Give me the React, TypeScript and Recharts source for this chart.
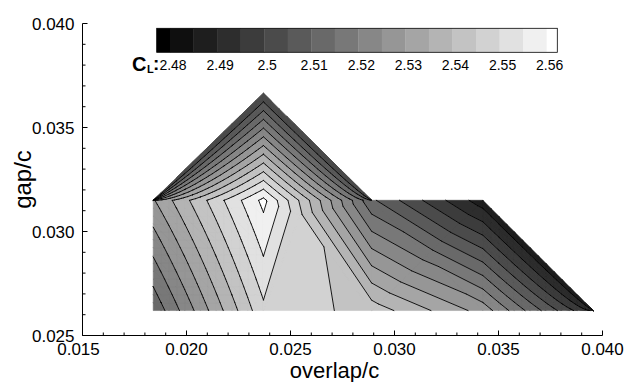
import React from "react";
import { ScatterChart, Scatter, XAxis, YAxis, Legend, Label } from "recharts";

// structured grid of the runs: overlap/c columns, gap/c rows
const overlapNodes = [0.0184, 0.0237, 0.0289, 0.03425, 0.03955];
const gapNodes = [0.0262, 0.0315, 0.03665];

// CL at every grid point, one array per gap row
const clRow0 = [2.511, 2.5488, 2.543, 2.528, 2.494];
const clRow1 = [2.5295, 2.5614, 2.511, 2.487, 2.487];
const clRow2 = [2.5, 2.5, 2.5, 2.5, 2.5];

// gap node that each grid point sits on (missing corners are collapsed onto a neighbour)
const gapRow0 = [0, 0, 0, 0, 0];
const gapRow1 = [1, 1, 1, 1, 0];
const gapRow2 = [1, 2, 1, 2, 2];

// cells that exist, [column, row] of the lower-left corner
const cells = [
  [0, 0], [1, 0], [2, 0], [3, 0],
  [0, 1], [1, 1],
];
// extra point inside a cell (null CL: bilinear cell; null position: cell centre)
const innerCL = [null, 2.546, 2.518, null, null, null];
const innerOverlap = [null, 0.02546, null, null, null, null];
const innerGap = [null, 0.03079, null, null, null, null];

const levels = [
  2.48, 2.485, 2.49, 2.495, 2.5, 2.505, 2.51, 2.515, 2.52,
  2.525, 2.53, 2.535, 2.54, 2.545, 2.55, 2.555, 2.56,
];
const legendTicks = [2.48, 2.49, 2.5, 2.51, 2.52, 2.53, 2.54, 2.55, 2.56];

const xMajor = [0.015, 0.02, 0.025, 0.03, 0.035, 0.04];
const xTicks = [
  0.015, 0.016, 0.017, 0.018, 0.019, 0.02, 0.021, 0.022, 0.023, 0.024, 0.025,
  0.026, 0.027, 0.028, 0.029, 0.03, 0.031, 0.032, 0.033, 0.034, 0.035,
  0.036, 0.037, 0.038, 0.039, 0.04,
];
const yMajor = [0.025, 0.03, 0.035, 0.04];
const yTicks = [
  0.025, 0.026, 0.027, 0.028, 0.029, 0.03, 0.031, 0.032, 0.033, 0.034,
  0.035, 0.036, 0.037, 0.038, 0.039, 0.04,
];

const FONT = "'Liberation Sans', Arial, Helvetica, sans-serif";
const SUB = 14;

const bandColor = (b: number) => {
  const g = Math.round((255 * b) / levels.length);
  return `rgb(${g},${g},${g})`;
};

type Pt = { x: number; y: number; f: number };

const clRows = [clRow0, clRow1, clRow2];
const gapRows = [gapRow0, gapRow1, gapRow2];
const nodeAt = (i: number, j: number): Pt => ({
  x: overlapNodes[i],
  y: gapNodes[gapRows[j][i]],
  f: clRows[j][i],
});

function buildTriangles(): Pt[][] {
  const tris: Pt[][] = [];
  cells.forEach(([i, j], c) => {
    const p00 = nodeAt(i, j);
    const p10 = nodeAt(i + 1, j);
    const p11 = nodeAt(i + 1, j + 1);
    const p01 = nodeAt(i, j + 1);
    const mid = innerCL[c];
    if (mid != null) {
      const ox = innerOverlap[c];
      const gy = innerGap[c];
      const m: Pt = {
        x: ox != null ? ox : (p00.x + p10.x + p11.x + p01.x) / 4,
        y: gy != null ? gy : (p00.y + p10.y + p11.y + p01.y) / 4,
        f: mid,
      };
      tris.push([p00, p10, m], [p10, p11, m], [p11, p01, m], [p01, p00, m]);
      return;
    }
    const at = (s: number, t: number): Pt => {
      const w00 = (1 - s) * (1 - t), w10 = s * (1 - t), w11 = s * t, w01 = (1 - s) * t;
      return {
        x: w00 * p00.x + w10 * p10.x + w11 * p11.x + w01 * p01.x,
        y: w00 * p00.y + w10 * p10.y + w11 * p11.y + w01 * p01.y,
        f: w00 * p00.f + w10 * p10.f + w11 * p11.f + w01 * p01.f,
      };
    };
    for (let a = 0; a < SUB; a++) {
      for (let b = 0; b < SUB; b++) {
        const q00 = at(a / SUB, b / SUB);
        const q10 = at((a + 1) / SUB, b / SUB);
        const q11 = at((a + 1) / SUB, (b + 1) / SUB);
        const q01 = at(a / SUB, (b + 1) / SUB);
        tris.push([q00, q10, q01], [q10, q11, q01]);
      }
    }
  });
  return tris;
}

function clip(poly: Pt[], k: number, above: boolean): Pt[] {
  const out: Pt[] = [];
  for (let n = 0; n < poly.length; n++) {
    const a = poly[n];
    const b = poly[(n + 1) % poly.length];
    const ina = above ? a.f >= k : a.f <= k;
    const inb = above ? b.f >= k : b.f <= k;
    if (ina) out.push(a);
    if (ina !== inb) {
      const u = (k - a.f) / (b.f - a.f);
      out.push({ x: a.x + u * (b.x - a.x), y: a.y + u * (b.y - a.y), f: k });
    }
  }
  return out;
}

const triangles = buildTriangles();

const fillPoints: { x: number; y: number; poly: number; band: number }[] = [];
const linePoints: { x: number; y: number }[] = [];
{
  let id = 0;
  triangles.forEach((tri) => {
    const fs = tri.map((p) => p.f);
    const lo = Math.min(...fs);
    const hi = Math.max(...fs);
    for (let b = 0; b <= levels.length; b++) {
      const bLo = b === 0 ? -Infinity : levels[b - 1];
      const bHi = b === levels.length ? Infinity : levels[b];
      if (hi < bLo || lo > bHi) continue;
      let poly = tri;
      if (isFinite(bLo)) poly = clip(poly, bLo, true);
      if (poly.length >= 3 && isFinite(bHi)) poly = clip(poly, bHi, false);
      if (poly.length < 3) continue;
      poly.forEach((p) => fillPoints.push({ x: p.x, y: p.y, poly: id, band: b }));
      id++;
    }
    levels.forEach((k) => {
      if (k <= lo || k >= hi) return;
      const cross: Pt[] = [];
      for (let n = 0; n < 3; n++) {
        const a = tri[n];
        const c = tri[(n + 1) % 3];
        if (a.f < k !== c.f < k) {
          const u = (k - a.f) / (c.f - a.f);
          cross.push({ x: a.x + u * (c.x - a.x), y: a.y + u * (c.y - a.y), f: k });
        }
      }
      if (cross.length === 2) {
        linePoints.push({ x: cross[0].x, y: cross[0].y }, { x: cross[1].x, y: cross[1].y });
      }
    });
  });
}

const NoDot = () => <g />;

const renderBands = (props: any) => {
  const pts = props.points || [];
  const polys: Record<number, { band: number; d: string }> = {};
  pts.forEach((p: any, idx: number) => {
    const src = fillPoints[idx];
    if (!src || p.x == null) return;
    const cur = polys[src.poly];
    if (!cur) polys[src.poly] = { band: src.band, d: `M${p.x},${p.y}` };
    else cur.d += `L${p.x},${p.y}`;
  });
  const byBand: string[] = Array(levels.length + 1).fill("");
  Object.values(polys).forEach((q) => {
    byBand[q.band] += q.d + "Z";
  });
  return (
    <g>
      {byBand.map((d, b) =>
        d ? (
          <path key={b} d={d} fill={bandColor(b)} stroke={bandColor(b)} strokeWidth={0.6} strokeLinejoin="round" />
        ) : null
      )}
    </g>
  );
};

const renderContours = (props: any) => {
  const pts = props.points || [];
  let d = "";
  for (let n = 0; n + 1 < pts.length; n += 2) {
    d += `M${pts[n].x},${pts[n].y}L${pts[n + 1].x},${pts[n + 1].y}`;
  }
  return <path d={d} fill="none" stroke="#000" strokeWidth={0.9} strokeLinecap="round" />;
};

const isMajor = (list: number[], v: number) => list.some((m) => Math.abs(m - v) < 1e-9);

function XTick(props: any) {
  const { x, y, payload } = props;
  const v = payload.value;
  const major = isMajor(xMajor, v);
  return (
    <g>
      <line x1={x} x2={x} y1={y} y2={y - (major ? 5 : 3)} stroke="#000" strokeWidth={1} />
      {major && (
        <text x={x - (v === 0.015 ? 4 : 0)} y={y + 19} textAnchor="middle" fontSize={17} fontFamily={FONT} fill="#000">
          {v.toFixed(3)}
        </text>
      )}
    </g>
  );
}

function YTick(props: any) {
  const { x, y, payload } = props;
  const v = payload.value;
  const major = isMajor(yMajor, v);
  return (
    <g>
      <line x1={x} x2={x + (major ? 5 : 3)} y1={y} y2={y} stroke="#000" strokeWidth={1} />
      {major && (
        <text x={x - 8} y={y + 6} textAnchor="end" fontSize={17} fontFamily={FONT} fill="#000">
          {v.toFixed(3)}
        </text>
      )}
    </g>
  );
}

const ColorBar = () => {
  const barLeft = 56.7;
  const barRight = 457.3;
  const firstLevel = 70;
  const cell = 23.54;
  const top = 8.3;
  const h = 24;
  const lx = (idx: number) => firstLevel + idx * cell;
  return (
    <svg width={480} height={62} style={{ display: "block" }}>
      {Array.from({ length: levels.length + 1 }, (_, b) => {
        const x1 = b === 0 ? barLeft : lx(b - 1);
        const x2 = b === levels.length ? barRight : lx(b);
        return <rect key={b} x={x1} y={top} width={x2 - x1 + 0.3} height={h} fill={bandColor(b)} />;
      })}
      <rect x={barLeft} y={top} width={barRight - barLeft} height={h} fill="none" stroke="#000" strokeWidth={0.8} />
      {legendTicks.map((t) => {
        const idx = levels.findIndex((l) => Math.abs(l - t) < 1e-9);
        return (
          <text key={t} x={lx(idx) + 3} y={50} textAnchor="middle" fontSize={14} fontFamily={FONT} fill="#000">
            {String(t)}
          </text>
        );
      })}
      <text x={32} y={50.5} fontSize={20} fontWeight="bold" fontFamily={FONT} fill="#000">C</text>
      <text x={47} y={53} fontSize={11} fontWeight="bold" fontFamily={FONT} fill="#000">L</text>
      <text x={53} y={50} fontSize={19} fontWeight="bold" fontFamily={FONT} fill="#000">:</text>
    </svg>
  );
};

export default function App() {
  return (
    <div style={{ position: "absolute", left: 0, top: 0, width: 628, height: 382, background: "#fff", fontFamily: FONT }}>
      <ScatterChart width={628} height={382} margin={{ top: 23.5, right: 25.5, left: 0, bottom: 0 }}>
        <XAxis
          type="number"
          dataKey="x"
          domain={[0.015, 0.04]}
          allowDataOverflow
          ticks={xTicks}
          interval={0}
          tick={<XTick />}
          tickLine={false}
          tickSize={0}
          tickMargin={0}
          axisLine={{ stroke: "#000", strokeWidth: 1 }}
          height={46.5}
        >
          <Label
            content={(p: any) => {
              const vb = p.viewBox || { x: 82.5, y: 335.5, width: 520 };
              return (
                <text x={vb.x + vb.width / 2 - 8} y={vb.y + 42.5} textAnchor="middle" fontSize={22} fontFamily={FONT} fill="#000">
                  overlap/c
                </text>
              );
            }}
          />
        </XAxis>
        <YAxis
          type="number"
          dataKey="y"
          domain={[0.025, 0.04]}
          allowDataOverflow
          ticks={yTicks}
          interval={0}
          tick={<YTick />}
          tickLine={false}
          tickSize={0}
          tickMargin={0}
          axisLine={{ stroke: "#000", strokeWidth: 1 }}
          width={82.5}
        >
          <Label
            content={(p: any) => {
              const vb = p.viewBox || { x: 0, y: 23.5, height: 312 };
              const cx = 22;
              const cy = vb.y + vb.height / 2;
              return (
                <text
                  x={cx}
                  y={cy}
                  transform={`rotate(-90 ${cx} ${cy})`}
                  textAnchor="middle"
                  dominantBaseline="central"
                  fontSize={24}
                  fontFamily={FONT}
                  fill="#000"
                >
                  gap/c
                </text>
              );
            }}
          />
        </YAxis>
        <Legend
          verticalAlign="middle"
          align="center"
          layout="horizontal"
          content={<ColorBar />}
          wrapperStyle={{ left: 100, top: 20, width: 480, height: 62 }}
        />
        <Scatter
          data={fillPoints}
          shape={NoDot}
          line={renderBands}
          lineType="joint"
          legendType="none"
          isAnimationActive={false}
        />
        <Scatter
          data={linePoints}
          shape={NoDot}
          line={renderContours}
          lineType="joint"
          legendType="none"
          isAnimationActive={false}
        />
      </ScatterChart>
    </div>
  );
}
